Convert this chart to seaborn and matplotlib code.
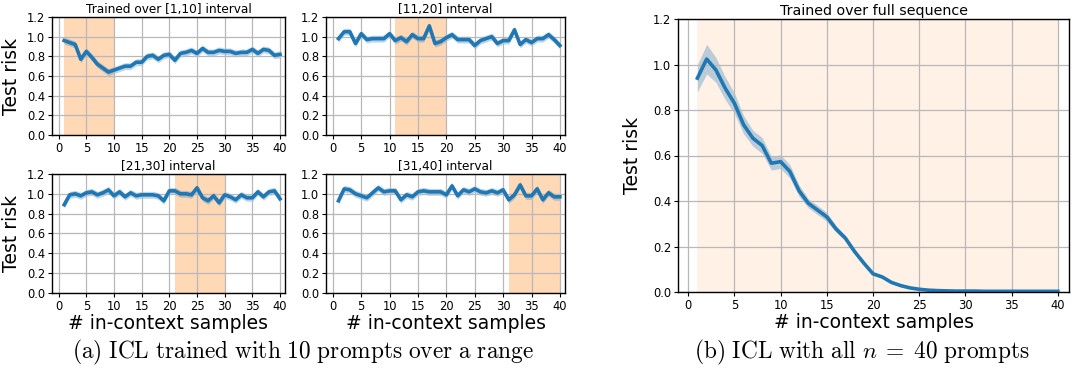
import numpy as np
import pandas as pd
import matplotlib
matplotlib.use("Agg")
import matplotlib.pyplot as plt
import seaborn as sns

plt.rcParams['font.family'] = ['DejaVu Sans']
plt.rcParams['mathtext.fontset'] = 'cm'

# in-context sample counts
n_samples = list(range(1, 41))

# test risk, models trained over one interval
risk_1_10 = [0.96, 0.94, 0.92, 0.77, 0.85, 0.79, 0.72, 0.68, 0.64, 0.66,
             0.68, 0.70, 0.70, 0.74, 0.74, 0.80, 0.81, 0.77, 0.81, 0.82,
             0.76, 0.83, 0.84, 0.86, 0.83, 0.88, 0.84, 0.84, 0.86, 0.85,
             0.85, 0.83, 0.84, 0.84, 0.87, 0.83, 0.87, 0.86, 0.81, 0.82]
risk_11_20 = [0.98, 1.05, 1.05, 0.93, 1.03, 0.97, 0.98, 0.98, 0.98, 1.03,
              0.96, 0.99, 0.95, 1.02, 0.98, 0.98, 1.11, 0.93, 0.95, 0.99,
              1.02, 0.97, 0.97, 0.97, 0.91, 0.96, 0.98, 1.00, 0.93, 0.96,
              0.96, 1.07, 0.92, 0.97, 0.94, 0.98, 0.98, 1.02, 0.97, 0.91]
risk_21_30 = [0.89, 0.99, 1.00, 0.98, 1.01, 1.02, 0.99, 1.01, 1.04, 0.98,
              1.02, 0.97, 1.01, 0.98, 0.99, 0.99, 0.99, 0.98, 0.93, 1.03,
              1.03, 1.00, 1.00, 0.99, 1.06, 0.96, 0.93, 0.98, 0.91, 0.99,
              0.97, 0.94, 0.99, 0.96, 0.96, 1.02, 0.97, 1.02, 1.03, 0.95]
risk_31_40 = [0.93, 1.05, 1.04, 1.00, 0.98, 0.96, 1.01, 1.06, 1.02, 1.03,
              1.03, 0.94, 0.99, 0.97, 1.02, 1.03, 1.02, 1.02, 1.02, 0.99,
              1.08, 0.98, 1.04, 1.02, 1.05, 1.02, 1.01, 1.03, 1.01, 1.04,
              0.94, 0.99, 1.09, 0.98, 0.98, 1.05, 0.94, 1.01, 0.97, 0.97]
band_small = 0.035

# full sequence training
risk_full = [0.94, 1.024, 0.976, 0.896, 0.83, 0.735, 0.676, 0.644, 0.566, 0.573,
             0.53, 0.445, 0.39, 0.36, 0.33, 0.277, 0.237, 0.178, 0.127, 0.08,
             0.066, 0.042, 0.028, 0.018, 0.012, 0.008, 0.006, 0.005, 0.004, 0.004,
             0.004, 0.003, 0.003, 0.003, 0.003, 0.003, 0.003, 0.003, 0.003, 0.003]
band_full = [0.06, 0.065, 0.055, 0.05, 0.045, 0.04, 0.035, 0.035, 0.03, 0.03,
             0.03, 0.025, 0.02, 0.02, 0.02, 0.015, 0.012, 0.01, 0.008, 0.006,
             0.005, 0.004, 0.003, 0.003, 0.002, 0.002, 0.002, 0.002, 0.002, 0.002,
             0.002, 0.002, 0.002, 0.002, 0.002, 0.002, 0.002, 0.002, 0.002, 0.002]

titles = ["Trained over [1,10] interval", "[11,20] interval", "[21,30] interval", "[31,40] interval"]
spans = [(1, 10), (11, 20), (21, 30), (31, 40)]
small_series = [risk_1_10, risk_11_20, risk_21_30, risk_31_40]

W, H = 1071, 371
fig = plt.figure(figsize=(W / 100, H / 100), dpi=100)

def box(left, right, top, bottom):
    return [left / W, 1 - bottom / H, (right - left) / W, (bottom - top) / H]

small_boxes = [box(52, 285, 17, 135), box(326, 565, 17, 135),
               box(52, 285, 174, 293), box(326, 565, 174, 293)]
blue = '#1f77b4'

def style_axis(ax, ticksize=8.3):
    ax.set_ylim(0, 1.2)
    ax.set_yticks(np.arange(0, 1.21, 0.2))
    ax.set_xticks(range(0, 41, 5))
    ax.tick_params(labelsize=ticksize, length=3, pad=2)
    ax.grid(True, color='#b8b8b8', linewidth=0.9)
    for s in ax.spines.values():
        s.set_color('black')
        s.set_linewidth(1.0)

for i, (vals, title, span, b) in enumerate(zip(small_series, titles, spans, small_boxes)):
    ax = fig.add_axes(b)
    df = pd.DataFrame({"n": n_samples, "risk": vals})
    ax.axvspan(span[0], span[1], color='#ff7f0e', alpha=0.3, linewidth=0)
    ax.fill_between(df["n"], df["risk"] - band_small, df["risk"] + band_small,
                    color=blue, alpha=0.3, linewidth=0)
    sns.lineplot(data=df, x="n", y="risk", ax=ax, color=blue, linewidth=2.6)
    style_axis(ax)
    ax.set_xlim(-1.2, 40.9)
    ax.set_title(title, fontsize=8.7, pad=3)
    ax.set_ylabel("Test risk" if i % 2 == 0 else "", fontsize=13.5, labelpad=4)
    ax.set_xlabel("# in-context samples" if i >= 2 else "", fontsize=13.5, labelpad=1)

# right panel
ax = fig.add_axes(box(678, 1069, 19, 292))
df = pd.DataFrame({"n": n_samples, "risk": risk_full, "band": band_full})
ax.axvspan(1, 40, color='#ff7f0e', alpha=0.1, linewidth=0)
ax.fill_between(df["n"], df["risk"] - df["band"], df["risk"] + df["band"],
                color=blue, alpha=0.3, linewidth=0)
sns.lineplot(data=df, x="n", y="risk", ax=ax, color=blue, linewidth=2.6)
style_axis(ax)
ax.set_xlim(-1.1, 41.2)
ax.set_title("Trained over full sequence", fontsize=10.3, pad=3)
ax.set_ylabel("Test risk", fontsize=13.5, labelpad=8)
ax.set_xlabel("# in-context samples", fontsize=13.5, labelpad=1)

# captions
fig.text(303 / W, 1 - 352 / H, r"$\mathrm{(a)\ ICL\ trained\ with\ 10\ prompts\ over\ a\ range}$",
         ha='center', va='center', fontsize=16.8)
fig.text(862 / W, 1 - 352 / H, r"$\mathrm{(b)\ ICL\ with\ all\ }n\;=\;\mathrm{40\ prompts}$",
         ha='center', va='center', fontsize=16.8)

fig.savefig("out.png", dpi=100)
